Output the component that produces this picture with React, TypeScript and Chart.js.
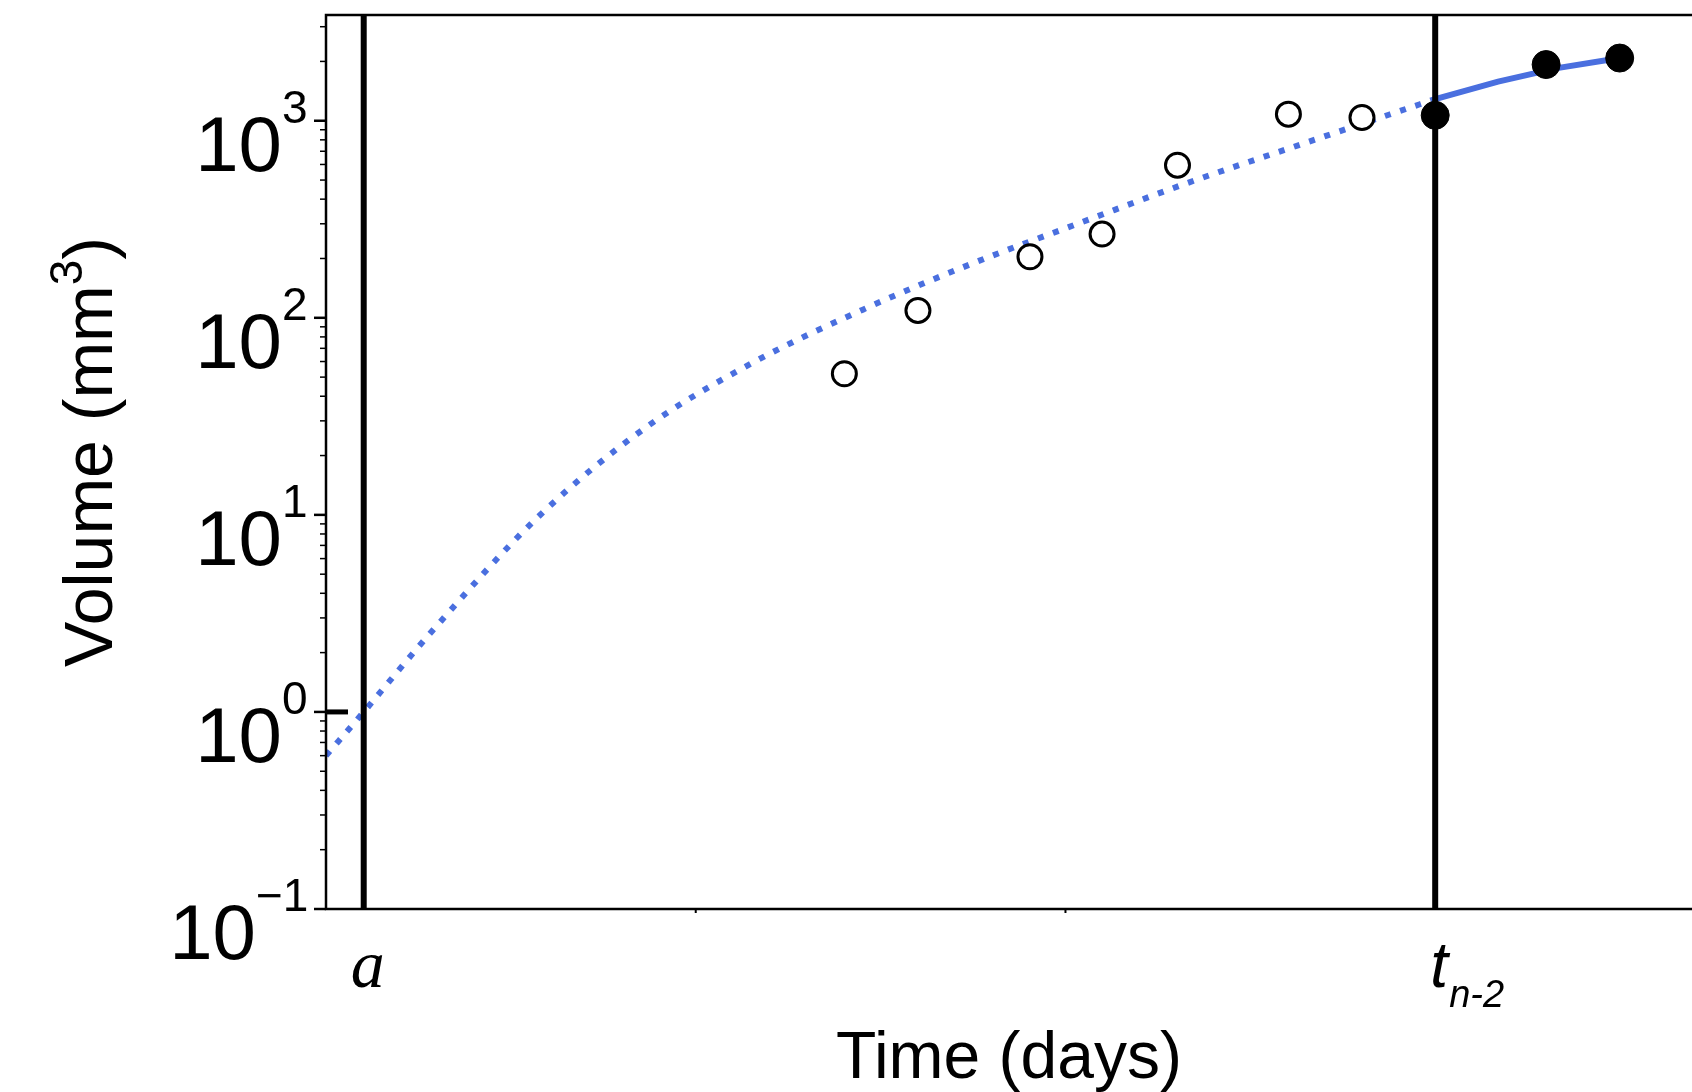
import React, { useEffect, useRef } from "react";
import { Chart, registerables } from "chart.js";

Chart.register(...registerables);

// x in tick units, y in mm^3
const fitX = [0, 0.102, 0.286, 0.577, 0.869, 1.16, 1.452, 1.743, 2.035, 2.327, 2.618, 3.0];
const fitY = [0.6, 1.0, 2.56, 9.9, 28.1, 60, 110, 187, 301, 481, 738, 1288];
const predX = [3.0, 3.17, 3.33, 3.5];
const predY = [1288, 1580, 1850, 2080];
const openX = [1.402, 1.601, 1.904, 2.099, 2.303, 2.603, 2.802];
const openY = [52, 109, 204, 266, 595, 1080, 1038];
const filledX = [3.0, 3.3, 3.499];
const filledY = [1065, 1928, 2080];
const markA = 0.102;
const markT = 3.0;
const decades = [-1, 0, 1, 2, 3];

const BLUE = "#4a6fdf";

const zip = (xs: number[], ys: number[]) => xs.map((x, i) => ({ x, y: ys[i] }));

const overlay = {
  id: "overlay",
  afterDraw(chart: any) {
    const { ctx, chartArea: a, scales } = chart;
    const xs = scales.x;
    const ys = scales.y;
    const W = chart.width;
    ctx.save();
    ctx.strokeStyle = "#000";
    ctx.fillStyle = "#000";
    // vertical markers
    ctx.lineWidth = 6;
    [markA, markT].forEach((v) => {
      const px = xs.getPixelForValue(v);
      ctx.beginPath();
      ctx.moveTo(px, a.top);
      ctx.lineTo(px, a.bottom);
      ctx.stroke();
    });
    // frame
    ctx.lineWidth = 2.5;
    ctx.beginPath();
    ctx.moveTo(W, a.top);
    ctx.lineTo(a.left, a.top);
    ctx.lineTo(a.left, a.bottom);
    ctx.lineTo(W, a.bottom);
    ctx.stroke();
    // y ticks
    for (let d = -1; d <= 3; d++) {
      for (let m = 1; m <= 9; m++) {
        const v = m * Math.pow(10, d);
        if (v > ys.max) break;
        const py = ys.getPixelForValue(v);
        ctx.lineWidth = m === 1 ? 2.5 : 1.5;
        ctx.beginPath();
        ctx.moveTo(a.left, py);
        ctx.lineTo(a.left - (m === 1 ? 12 : 6), py);
        ctx.stroke();
      }
    }
    // y=1 marker
    ctx.lineWidth = 5;
    const p1 = ys.getPixelForValue(1);
    ctx.beginPath();
    ctx.moveTo(a.left, p1);
    ctx.lineTo(a.left + 22, p1);
    ctx.stroke();
    // x ticks
    ctx.lineWidth = 2;
    [1, 2].forEach((v) => {
      const px = xs.getPixelForValue(v);
      ctx.beginPath();
      ctx.moveTo(px, a.bottom);
      ctx.lineTo(px, a.bottom + 4);
      ctx.stroke();
    });
    // y tick labels
    ctx.textBaseline = "alphabetic";
    decades.forEach((d) => {
      const py = ys.getPixelForValue(Math.pow(10, d));
      ctx.font = "78px 'Liberation Sans', Arial, sans-serif";
      ctx.textAlign = "right";
      const expW = d < 0 ? 52 : 26;
      ctx.fillText("10", a.left - 18 - expW, py + 50);
      ctx.font = "46px 'Liberation Sans', Arial, sans-serif";
      ctx.textAlign = "left";
      ctx.fillText(d < 0 ? "\u2212" + Math.abs(d) : String(d), a.left - 18 - expW, py + 2);
    });
    // x tick labels
    ctx.textAlign = "center";
    ctx.font = "italic 68px 'Liberation Serif', 'Times New Roman', serif";
    ctx.fillText("a", xs.getPixelForValue(markA) + 4, a.bottom + 78);
    const tx = xs.getPixelForValue(markT);
    ctx.font = "italic 64px 'Liberation Sans', Arial, sans-serif";
    ctx.fillText("t", tx + 4, a.bottom + 78);
    ctx.font = "italic 38px 'Liberation Sans', Arial, sans-serif";
    ctx.textAlign = "left";
    ctx.fillText("n-2", tx + 14, a.bottom + 98);
    // axis titles
    ctx.textAlign = "center";
    ctx.font = "66px 'Liberation Sans', Arial, sans-serif";
    ctx.fillText("Time (days)", (a.left + W) / 2, 1078);
    ctx.translate(112, (a.top + a.bottom) / 2 - 10);
    ctx.rotate(-Math.PI / 2);
    ctx.font = "68px 'Liberation Sans', Arial, sans-serif";
    const t1 = "Volume (mm";
    const w1 = ctx.measureText(t1).width;
    ctx.font = "46px 'Liberation Sans', Arial, sans-serif";
    const w2 = ctx.measureText("3").width;
    ctx.font = "68px 'Liberation Sans', Arial, sans-serif";
    const w3 = ctx.measureText(")").width;
    const start = -(w1 + w2 + w3) / 2;
    ctx.textAlign = "left";
    ctx.fillText(t1, start, 0);
    ctx.fillText(")", start + w1 + w2, 0);
    ctx.font = "46px 'Liberation Sans', Arial, sans-serif";
    ctx.fillText("3", start + w1, -30);
    ctx.restore();
  },
};

export default function App() {
  const canvasRef = useRef<HTMLCanvasElement>(null);

  useEffect(() => {
    if (!canvasRef.current) return;
    const chart = new Chart(canvasRef.current, {
      type: "scatter",
      data: {
        datasets: [
          {
            data: zip(fitX, fitY),
            showLine: true,
            borderColor: BLUE,
            borderWidth: 6,
            borderDash: [6, 10],
            pointRadius: 0,
            cubicInterpolationMode: "monotone",
            order: 3,
          },
          {
            data: zip(predX, predY),
            showLine: true,
            borderColor: BLUE,
            borderWidth: 6,
            pointRadius: 0,
            order: 3,
          },
          {
            data: zip(openX, openY),
            pointRadius: 12,
            pointBackgroundColor: "#fff",
            pointBorderColor: "#000",
            pointBorderWidth: 3,
            order: 1,
          },
          {
            data: zip(filledX, filledY),
            pointRadius: 14,
            pointBackgroundColor: "#000",
            pointBorderColor: "#000",
            order: 1,
          },
        ],
      },
      options: {
        animation: false,
        responsive: false,
        layout: { padding: { top: 15, right: 0, left: 0, bottom: 0 } },
        plugins: { legend: { display: false }, tooltip: { enabled: false } },
        scales: {
          x: {
            type: "linear",
            min: 0,
            max: 3.654,
            grid: { display: false },
            border: { display: false },
            ticks: { display: false },
            afterFit: (s: any) => {
              s.height = 183;
            },
          },
          y: {
            type: "logarithmic",
            min: 0.1,
            max: 3440,
            grid: { display: false },
            border: { display: false },
            ticks: { display: false },
            afterFit: (s: any) => {
              s.width = 326;
            },
          },
        },
      },
      plugins: [overlay],
    });
    return () => chart.destroy();
  }, []);

  return (
    <div style={{ position: "absolute", left: 0, top: 0, width: 1692, height: 1092, background: "#fff" }}>
      <canvas ref={canvasRef} width={1692} height={1092} style={{ width: 1692, height: 1092 }} />
    </div>
  );
}
